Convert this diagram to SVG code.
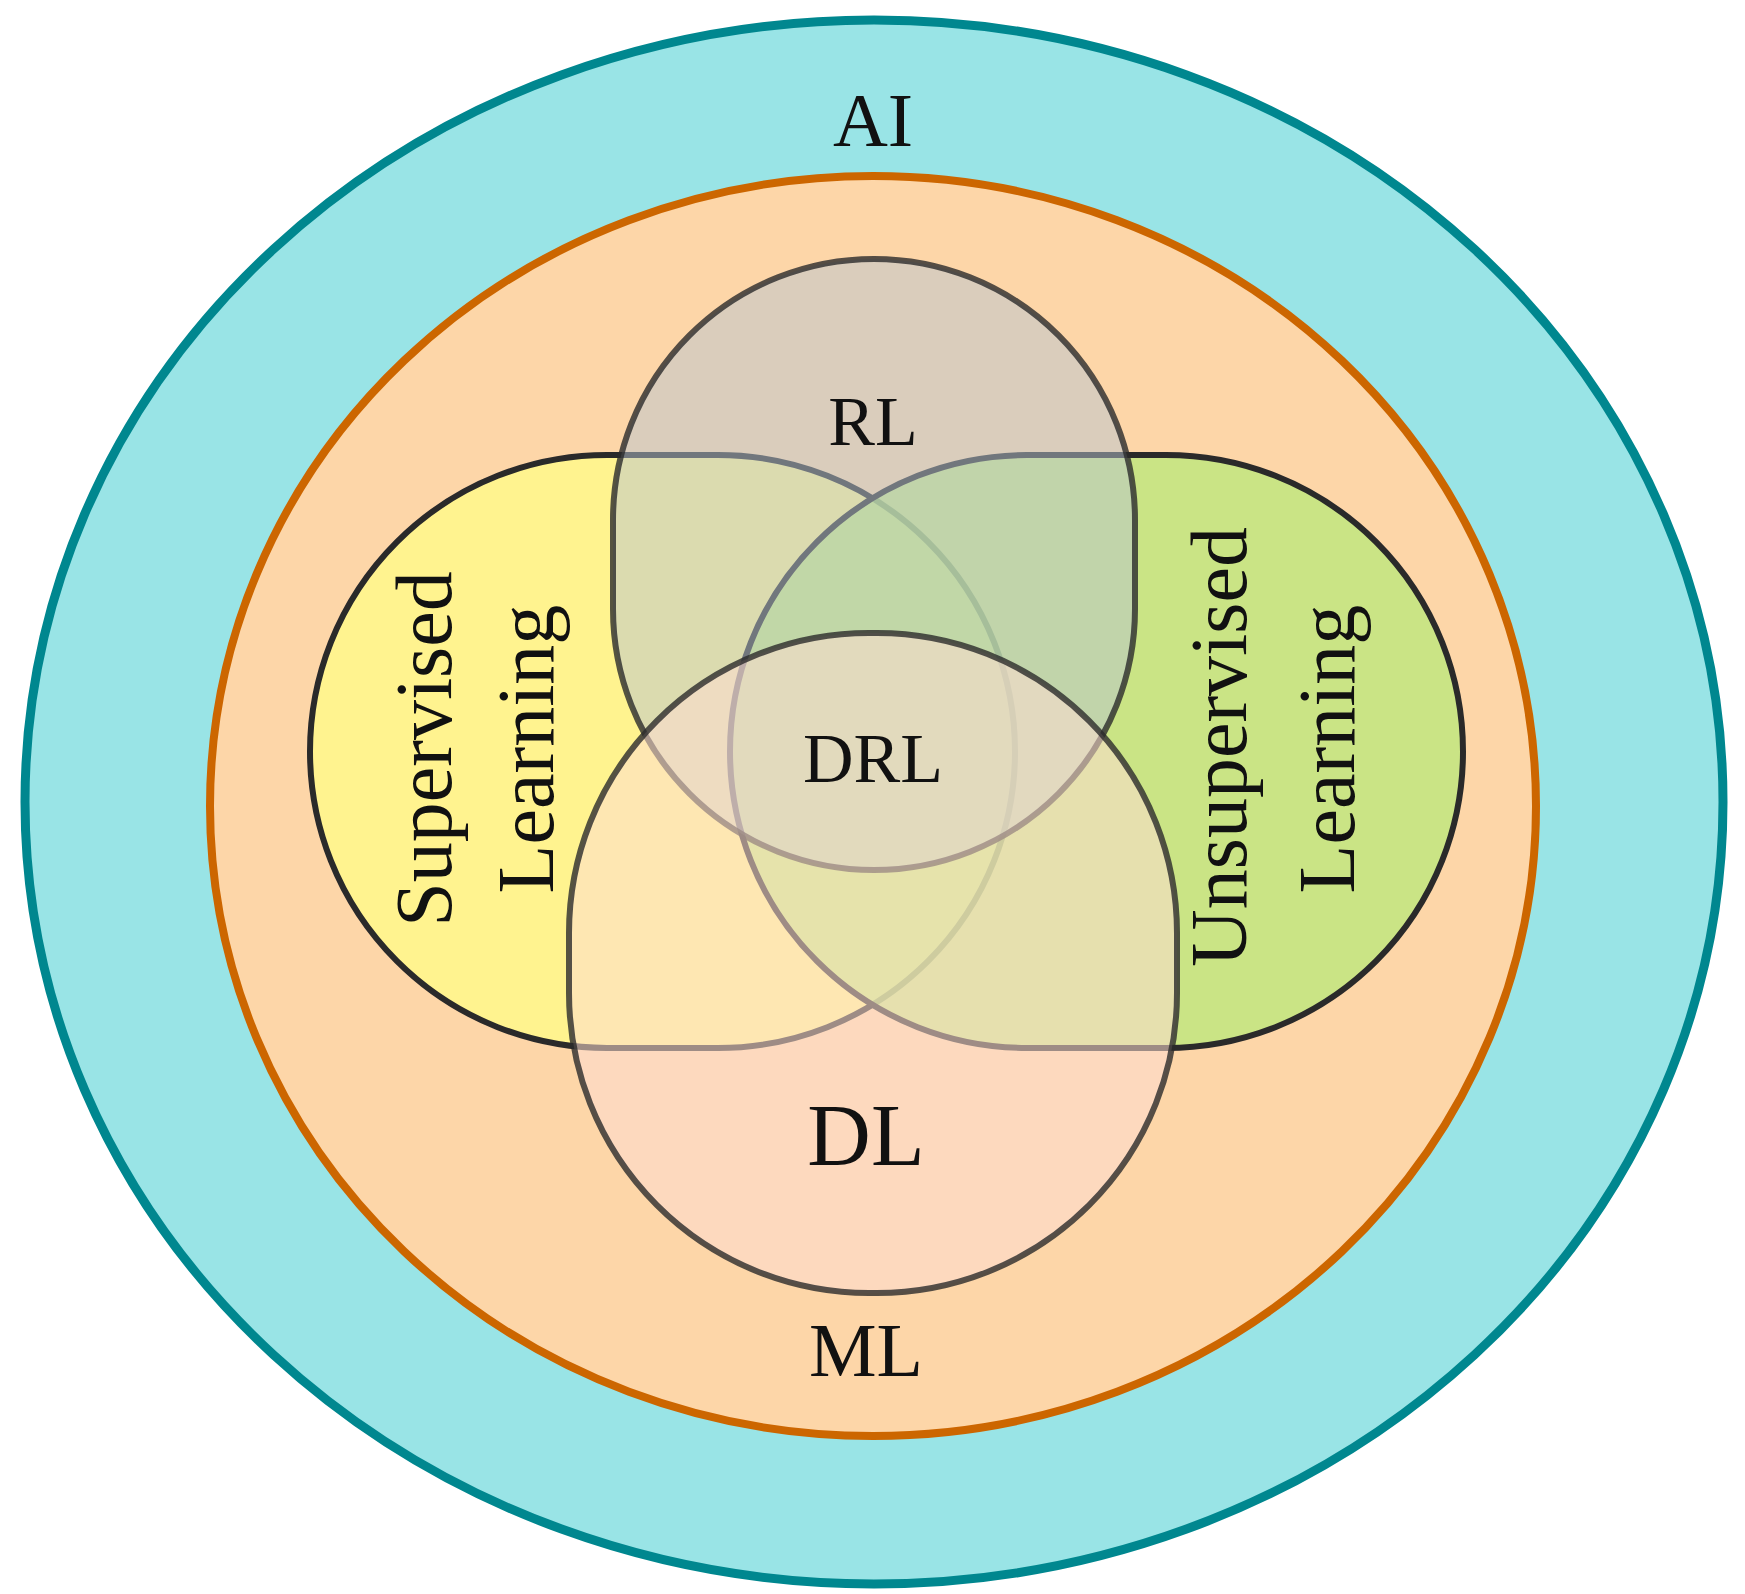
<svg xmlns="http://www.w3.org/2000/svg" width="1745" height="1594" viewBox="0 0 1745 1594">
<style>
text{font-family:"Liberation Serif","Times New Roman",serif;fill:#111;text-anchor:middle;dominant-baseline:central}
.set{stroke:#2a2a2a;stroke-width:6}
</style>
<rect width="1745" height="1594" fill="#fff"/>
<g id="AI"><ellipse cx="874" cy="802" rx="849" ry="782" fill="#99e4e6" stroke="#00878f" stroke-width="9"/><text x="873" y="120" font-size="76">AI</text></g>
<g id="ML"><ellipse cx="873" cy="806" rx="663" ry="630" fill="#fdd6a8" stroke="#cc6600" stroke-width="8"/><text x="866" y="1350" font-size="76">ML</text></g>
<g id="SL"><rect class="set" x="310" y="455" width="705" height="593" rx="297" fill="#fff38f"/></g>
<g id="UL"><rect class="set" x="730" y="455" width="733" height="593" rx="297" fill="#b8e87a" fill-opacity="0.75"/></g>
<g id="RL"><rect class="set" x="613" y="259" width="522" height="611" rx="261" fill="#b8c4d0" fill-opacity="0.5" stroke-opacity="0.8"/></g>
<g id="DL"><rect class="set" x="569" y="633" width="608" height="660" rx="300" fill="#fddcd0" fill-opacity="0.55" stroke-opacity="0.8"/></g>
<g id="labels">
<text x="873" y="421" font-size="70">RL</text>
<text x="873" y="758" font-size="70">DRL</text>
<text x="866" y="1135" font-size="88">DL</text>
<text transform="translate(424 749) rotate(-90)" font-size="80">Supervised</text>
<text transform="translate(526 749) rotate(-90)" font-size="80">Learning</text>
<text transform="translate(1219 747) rotate(-90)" font-size="80">Unsupervised</text>
<text transform="translate(1327 749) rotate(-90)" font-size="80">Learning</text>
</g>
<g id="connectors"/>
</svg>
